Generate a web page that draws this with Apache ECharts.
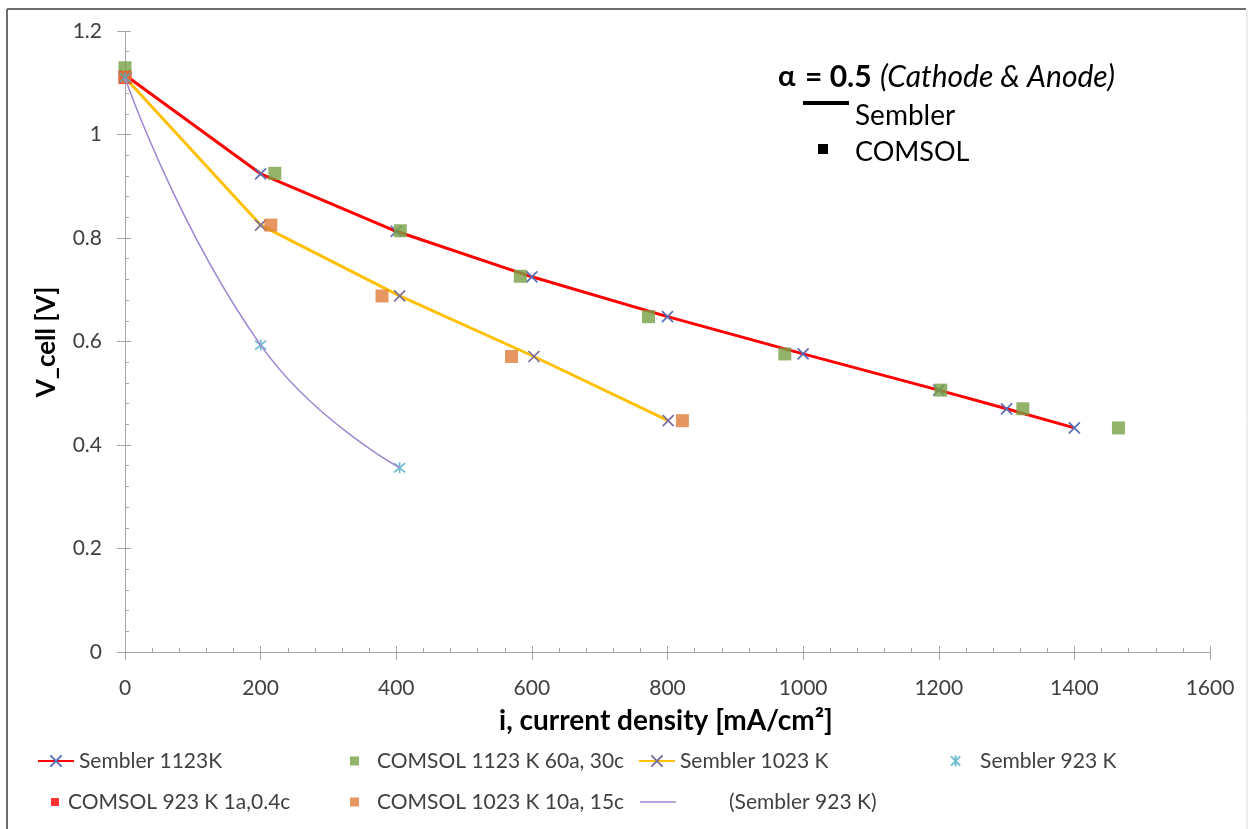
<!DOCTYPE html>
<html>
<head>
<meta charset="utf-8">
<script src="https://cdn.jsdelivr.net/npm/echarts@6/dist/echarts.min.js"></script>
<style>
  html, body { margin: 0; padding: 0; background: #fff; }
  #chart { width: 1250px; height: 829px; }
</style>
</head>
<body>
<div id="chart"></div>
<script>
// Polarisation curves: cell voltage vs current density
const xTicks = [0, 200, 400, 600, 800, 1000, 1200, 1400, 1600];
const yTicks = [0, 0.2, 0.4, 0.6, 0.8, 1, 1.2];

const sembler1123_i = [0, 200, 400, 600, 800, 1000, 1200, 1300, 1400];
const sembler1123_v = [1.115, 0.924, 0.813, 0.725, 0.648, 0.576, 0.506, 0.470, 0.433];

const comsol1123_i = [0, 221, 406, 583, 772, 973, 1203, 1324, 1465];
const comsol1123_v = [1.129, 0.925, 0.814, 0.726, 0.648, 0.576, 0.506, 0.470, 0.433];

const sembler1023_i = [0, 200, 405, 603, 801];
const sembler1023_v = [1.11, 0.825, 0.688, 0.571, 0.447];

const sembler923_i = [0, 200, 405];
const sembler923_v = [1.11, 0.593, 0.356];

const comsol923_i = [0];
const comsol923_v = [1.11];

const comsol1023_i = [0, 215, 379, 570, 822];
const comsol1023_v = [1.111, 0.825, 0.688, 0.571, 0.447];

const pairs = (xs, ys) => xs.map((x, k) => [x, ys[k]]);

const FONT = 'Lato';
const CROSS = 'path://M0,0L10,10M10,0L0,10';
const ASTER = 'path://M0,0L10,10M10,0L0,10M5,-1L5,11';

const chart = echarts.init(document.getElementById('chart'), null, { renderer: 'canvas' });

const axisGray = '#A6A6A6';
const labelColor = '#404040';
const LEG_FS = 21;

function legendAt(item, left, top, iconW, iconH, padLeft) {
  return {
    data: [item], left: left, top: top, orient: 'horizontal',
    itemWidth: iconW, itemHeight: iconH, itemGap: 0, padding: 0,
    selectedMode: false,
    textStyle: { fontFamily: FONT, fontSize: LEG_FS, lineHeight: 24, color: labelColor,
      padding: [0, 0, 0, padLeft || 0] }
  };
}

const option = {
  animation: false,
  backgroundColor: '#fff',
  grid: { left: 125, right: 40, top: 31, bottom: 177, containLabel: false },
  xAxis: [{
    type: 'value', min: 0, max: 1600, interval: 200,
    axisLine: { show: true, lineStyle: { color: axisGray, width: 1 } },
    axisTick: { show: true, inside: false, length: 8, lineStyle: { color: axisGray } },
    splitLine: { show: false },
    axisLabel: { margin: 26, fontFamily: FONT, fontSize: 21, color: labelColor,
      formatter: v => xTicks.indexOf(v) >= 0 ? String(v) : '' }
  }, {
    type: 'value', min: 0, max: 1600, interval: 200, position: 'bottom',
    axisLine: { show: false },
    axisTick: { show: true, inside: true, length: 6, lineStyle: { color: axisGray } },
    minorTick: { show: true, splitNumber: 5, length: 4, lineStyle: { color: axisGray } },
    splitLine: { show: false }, minorSplitLine: { show: false },
    axisLabel: { show: false }
  }],
  yAxis: [{
    type: 'value', min: 0, max: 1.2, interval: 0.2,
    axisLine: { show: true, lineStyle: { color: axisGray, width: 1 } },
    axisTick: { show: true, inside: false, length: 8, lineStyle: { color: axisGray } },
    splitLine: { show: false },
    axisLabel: { margin: 23, fontFamily: FONT, fontSize: 21, color: labelColor,
      formatter: v => { const t = yTicks.find(y => Math.abs(y - v) < 1e-9); return t === undefined ? '' : String(t); } }
  }, {
    type: 'value', min: 0, max: 1.2, interval: 0.2, position: 'left',
    axisLine: { show: false },
    axisTick: { show: true, inside: true, length: 6, lineStyle: { color: axisGray } },
    minorTick: { show: true, splitNumber: 5, length: 4, lineStyle: { color: axisGray } },
    splitLine: { show: false }, minorSplitLine: { show: false },
    axisLabel: { show: false }
  }],
  legend: [
    legendAt('Sembler 1123K', 37, 749, 36, 14, 0),
    legendAt('COMSOL 1123 K 60a, 30c', 350, 749, 9, 9, 13),
    legendAt('Sembler 1023 K', 638, 749, 36, 14, 0),
    legendAt('Sembler 923 K', 950, 749, 11, 11, 14),
    legendAt('COMSOL 923 K 1a,0.4c', 51, 790, 8, 8, 4),
    legendAt('COMSOL 1023 K 10a, 15c', 350, 790, 9, 9, 13),
    legendAt({ name: '(Sembler 923 K)', icon: 'path://M0,0H36V1.6H0Z' }, 640, 790, 36, 14, 48)
  ],
  series: [
    {
      name: 'Sembler 1123K', type: 'line', data: pairs(sembler1123_i, sembler1123_v),
      lineStyle: { color: '#FF0000', width: 3 },
      symbol: CROSS, symbolSize: 11, showAllSymbol: true,
      itemStyle: { color: 'rgba(0,0,0,0)', borderColor: '#5B6FB8', borderWidth: 1.7 },
      emphasis: { disabled: true }, z: 2
    },
    {
      name: 'COMSOL 1123 K 60a, 30c', type: 'scatter', data: pairs(comsol1123_i, comsol1123_v),
      symbol: 'rect', symbolSize: 13,
      itemStyle: { color: '#77A043' },
      emphasis: { disabled: true }, z: 3
    },
    {
      name: 'Sembler 1023 K', type: 'line', data: pairs(sembler1023_i, sembler1023_v),
      lineStyle: { color: '#FFC000', width: 3 },
      symbol: CROSS, symbolSize: 11, showAllSymbol: true,
      itemStyle: { color: 'rgba(0,0,0,0)', borderColor: '#7A6E9C', borderWidth: 1.7 },
      emphasis: { disabled: true }, z: 2
    },
    {
      name: 'Sembler 923 K', type: 'scatter', data: pairs(sembler923_i, sembler923_v),
      symbol: ASTER, symbolSize: 11,
      itemStyle: { color: 'rgba(0,0,0,0)', borderColor: '#4BACC6', borderWidth: 1.7 },
      emphasis: { disabled: true }, z: 4
    },
    {
      name: 'COMSOL 923 K 1a,0.4c', type: 'scatter', data: pairs(comsol923_i, comsol923_v),
      symbol: 'rect', symbolSize: 13,
      itemStyle: { color: '#FF0000' },
      emphasis: { disabled: true }, z: 3
    },
    {
      name: 'COMSOL 1023 K 10a, 15c', type: 'scatter', data: pairs(comsol1023_i, comsol1023_v),
      symbol: 'rect', symbolSize: 13,
      itemStyle: { color: '#E07D3A' },
      emphasis: { disabled: true }, z: 3
    },
    {
      name: '(Sembler 923 K)', type: 'line', data: pairs(sembler923_i, sembler923_v),
      smooth: 0.5, symbol: 'none',
      lineStyle: { color: '#9F87D0', width: 1.5 },
      itemStyle: { color: '#9F87D0' },
      emphasis: { disabled: true }, z: 5
    }
  ],
  graphic: [
    // frame
    { type: 'line', shape: { x1: 7, y1: 9, x2: 1246, y2: 9 }, style: { stroke: '#6E6E6E', lineWidth: 2 }, silent: true },
    { type: 'line', shape: { x1: 7, y1: 9, x2: 7, y2: 829 }, style: { stroke: '#6E6E6E', lineWidth: 2 }, silent: true },
    { type: 'line', shape: { x1: 1247, y1: 10, x2: 1247, y2: 829 }, style: { stroke: '#DDDDDD', lineWidth: 1 }, silent: true },
    // axis titles
    { type: 'text', x: 666, y: 721, silent: true,
      style: { text: 'i, current density [mA/cm²]', fontFamily: FONT, fontWeight: 'bold', fontSize: 28, fill: '#000',
        align: 'center', verticalAlign: 'middle' } },
    { type: 'text', x: 47, y: 342, rotation: Math.PI / 2, silent: true,
      style: { text: 'V_cell [V]', fontFamily: FONT, fontWeight: 'bold', fontSize: 26, fill: '#000', align: 'center', verticalAlign: 'middle' } },
    // alpha note
    { type: 'text', x: 778, y: 77, silent: true,
      style: { text: 'α', fontFamily: FONT, fontWeight: 'bold', fontSize: 29, fill: '#000', verticalAlign: 'middle' } },
    { type: 'text', x: 805, y: 77, silent: true,
      style: { text: '= 0.5', fontFamily: FONT, fontWeight: 'bold', fontSize: 30, fill: '#000', verticalAlign: 'middle' } },
    { type: 'text', x: 880, y: 77, silent: true,
      style: { text: '(Cathode & Anode)', fontFamily: FONT, fontStyle: 'italic', fontSize: 30, fill: '#000', verticalAlign: 'middle' } },
    { type: 'line', shape: { x1: 803, y1: 103, x2: 849, y2: 103 }, style: { stroke: '#000', lineWidth: 4 }, silent: true },
    { type: 'text', x: 855, y: 116, silent: true,
      style: { text: 'Sembler', fontFamily: FONT, fontSize: 28, fill: '#000', verticalAlign: 'middle' } },
    { type: 'rect', shape: { x: 818, y: 144, width: 10, height: 10 }, style: { fill: '#000' }, silent: true },
    { type: 'text', x: 855, y: 152, silent: true,
      style: { text: 'COMSOL', fontFamily: FONT, fontSize: 27, fill: '#000', verticalAlign: 'middle' } }
  ]
};

chart.setOption(option);
</script>
</body>
</html>
